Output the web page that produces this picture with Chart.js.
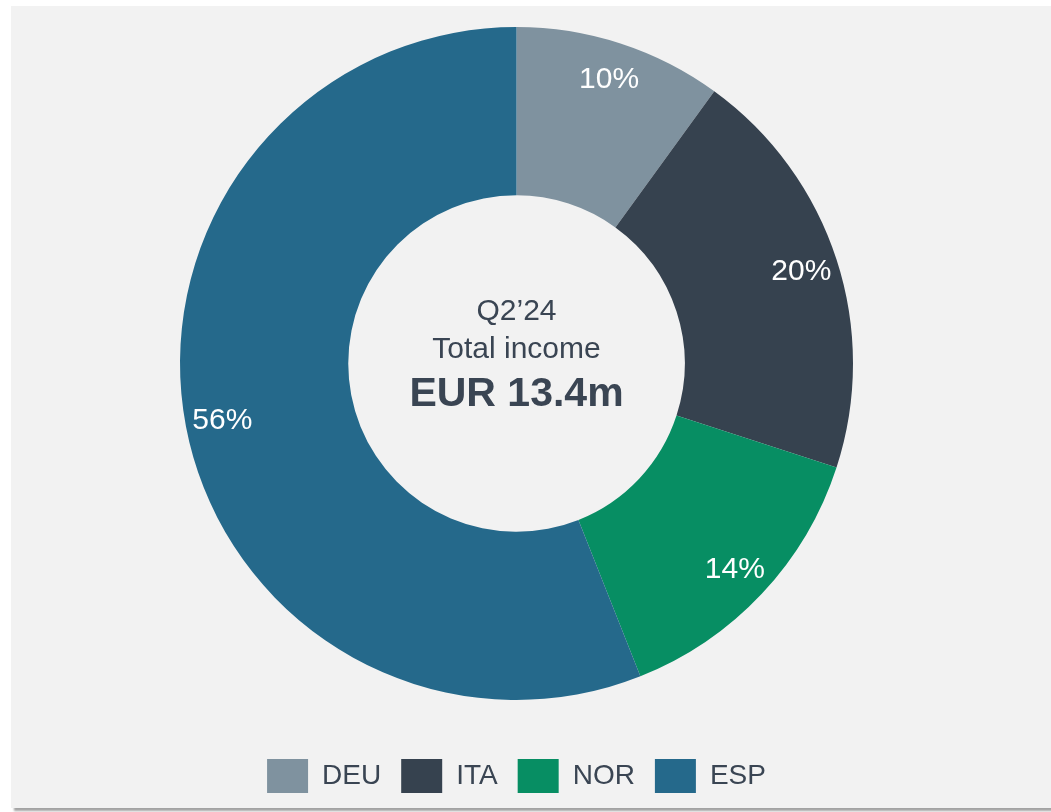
<!DOCTYPE html>
<html>
<head>
<meta charset="utf-8">
<script src="https://cdn.jsdelivr.net/npm/chart.js@4"></script>
<style>
  html, body { margin: 0; padding: 0; background: #ffffff; overflow: hidden; }
  body { width: 1051px; height: 812px; position: relative; }
  .card {
    position: absolute; left: 11px; top: 6px; width: 1040px; height: 802px;
    background: #f2f2f2; overflow: hidden;
    box-shadow: 3px 3px 2px #a3a3a3;
  }
  .card canvas { position: absolute; left: 0; top: -30px; }
</style>
</head>
<body>
<div class="card">
  <canvas id="income" width="1040" height="832"></canvas>
</div>
<script>
const countries = ['DEU', 'ITA', 'NOR', 'ESP'];
const shares = [10, 20, 14, 56]; // % of total income, Q2'24
const sliceColors = ['#7f929f', '#36424f', '#078e63', '#25698b'];
const centerLines = ['Q2\u201924', 'Total income', 'EUR 13.4m'];

const textColor = '#3a4553';
const fontFamily = 'Arial, "Liberation Sans", Helvetica, sans-serif';

// percentage labels near the outer rim of each slice
const sliceLabels = {
  id: 'sliceLabels',
  afterDatasetsDraw(chart) {
    const ctx = chart.ctx;
    const meta = chart.getDatasetMeta(0);
    ctx.save();
    ctx.fillStyle = '#ffffff';
    ctx.font = '30px ' + fontFamily;
    ctx.textAlign = 'center';
    ctx.textBaseline = 'middle';
    meta.data.forEach((arc, i) => {
      const p = arc.getProps(['x', 'y', 'startAngle', 'endAngle', 'outerRadius'], true);
      const mid = (p.startAngle + p.endAngle) / 2;
      const r = p.outerRadius * 0.89;
      ctx.fillText(shares[i] + '%', p.x + Math.cos(mid) * r, p.y + Math.sin(mid) * r + 1);
    });
    ctx.restore();
  }
};

// text in the hole
const centerText = {
  id: 'centerText',
  afterDraw(chart) {
    const ctx = chart.ctx;
    const arc = chart.getDatasetMeta(0).data[0];
    const cx = arc.x, cy = arc.y;
    ctx.save();
    ctx.fillStyle = textColor;
    ctx.textAlign = 'center';
    ctx.textBaseline = 'middle';
    ctx.font = '30px ' + fontFamily;
    ctx.fillText(centerLines[0], cx, cy - 52);
    ctx.fillText(centerLines[1], cx, cy - 14);
    ctx.font = 'bold 41px ' + fontFamily;
    ctx.fillText(centerLines[2], cx, cy + 31);
    ctx.restore();
  }
};

const ctx = document.getElementById('income').getContext('2d');
new Chart(ctx, {
  type: 'doughnut',
  data: {
    labels: countries,
    datasets: [{
      data: shares,
      backgroundColor: sliceColors,
      borderWidth: 0
    }]
  },
  options: {
    responsive: false,
    animation: false,
    radius: 336.5,
    cutout: '50%',
    layout: {
      padding: { top: 12, bottom: 5, left: 0, right: 29 }
    },
    plugins: {
      tooltip: { enabled: false },
      legend: {
        position: 'bottom',
        labels: {
          boxWidth: 41,
          boxHeight: 34,
          padding: 20,
          color: textColor,
          font: { size: 28, family: fontFamily }
        }
      }
    }
  },
  plugins: [sliceLabels, centerText]
});
</script>
</body>
</html>
